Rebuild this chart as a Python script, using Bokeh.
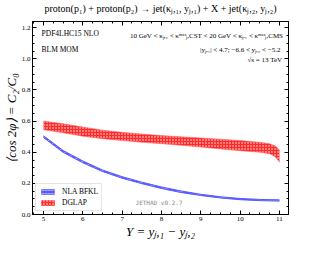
import math
from bokeh.plotting import figure
from bokeh.models import (Range1d, SingleIntervalTicker, LinearAxis, Label, Legend, LegendItem,
                          CustomJSTickFormatter, CustomLabelingPolicy)
from bokeh.embed import file_html
from bokeh.resources import INLINE

# ---- data ----
Y_bfkl = [5.0, 5.5, 6.0, 6.5, 7.0, 7.5, 8.0, 8.5, 9.0, 9.5, 10.0, 10.5, 11.0]
bfkl_mid = [0.500, 0.405, 0.338, 0.281, 0.238, 0.203, 0.172, 0.146, 0.126, 0.110, 0.099, 0.093, 0.090]
bfkl_err = [0.006, 0.006, 0.006, 0.005, 0.005, 0.005, 0.005, 0.005, 0.004, 0.004, 0.004, 0.004, 0.004]

Y_dglap = [5.0, 5.5, 6.0, 6.5, 7.0, 7.5, 8.0, 8.5, 9.0, 9.5, 10.0, 10.5, 10.75, 10.9, 11.0]
dglap_hi = [0.600, 0.583, 0.562, 0.542, 0.528, 0.517, 0.507, 0.499, 0.492, 0.484, 0.475, 0.464, 0.455, 0.440, 0.415]
dglap_lo = [0.545, 0.525, 0.503, 0.487, 0.475, 0.464, 0.455, 0.445, 0.433, 0.421, 0.410, 0.400, 0.390, 0.370, 0.335]

series_names = ["NLA BFKL", "DGLAP"]
x_ticks_interval = 1
y_ticks_interval = 0.2
x_title = "Y = y\u2c7c,\u2081 \u2212 y\u2c7c,\u2082"
y_title = "\u27e8cos 2\u03c6\u27e9 = C\u2082/C\u2080"

SERIF = "Liberation Serif"
X0, X1, Y0, Y1 = 4.72, 11.23, 0.0, 1.24

bfkl_lo = [m - e for m, e in zip(bfkl_mid, bfkl_err)]
bfkl_hi = [m + e for m, e in zip(bfkl_mid, bfkl_err)]

p = figure(width=300, height=241, output_backend="svg", toolbar_location=None,
           x_range=Range1d(X0, X1), y_range=Range1d(Y0, Y1),
           min_border_left=4, min_border_right=1, min_border_top=2, min_border_bottom=2)
p.grid.visible = False
p.outline_line_color = "black"
p.background_fill_color = "white"
p.border_fill_color = "white"

p.title.text = "proton(p\u2081) + proton(p\u2082) \u2192 jet(\u03ba\u2c7c,\u2081, y\u2c7c,\u2081) + X + jet(\u03ba\u2c7c,\u2082, y\u2c7c,\u2082)"
p.title.text_font = SERIF
p.title.text_color = "black"
p.title.text_font_style = "normal"
p.title.text_font_size = "10px"
p.title.align = "center"
p.title.offset = 0
p.title.standoff = 1

no_labels = CustomLabelingPolicy(code="return new Set()")

def style_axis(ax, labels=True):
    ax.major_tick_in = 4
    ax.major_tick_out = 0
    ax.minor_tick_in = 2
    ax.minor_tick_out = 0
    ax.axis_line_color = "black"
    ax.major_tick_line_color = "black"
    ax.minor_tick_line_color = "black"
    ax.major_label_text_font = SERIF
    ax.major_label_text_color = "black"
    ax.major_label_text_font_size = "7px"
    ax.major_label_standoff = 2 if labels else 0
    ax.axis_label_text_font = SERIF
    ax.axis_label_text_color = "black"
    ax.axis_label_text_font_style = "italic"
    if not labels:
        ax.major_label_policy = no_labels

p.xaxis.ticker = SingleIntervalTicker(interval=x_ticks_interval, num_minor_ticks=4)
p.yaxis.ticker = SingleIntervalTicker(interval=y_ticks_interval, num_minor_ticks=4)
style_axis(p.xaxis[0])
style_axis(p.yaxis[0])
p.yaxis.formatter = CustomJSTickFormatter(code="return tick.toFixed(1)")

p.xaxis.axis_label = x_title
p.xaxis.axis_label_text_font_size = "13px"
p.xaxis.axis_label_standoff = 0
p.yaxis.axis_label = y_title
p.yaxis.axis_label_text_font_size = "13px"
p.yaxis.axis_label_standoff = 0

top_ax = LinearAxis(ticker=SingleIntervalTicker(interval=x_ticks_interval, num_minor_ticks=4))
right_ax = LinearAxis(ticker=SingleIntervalTicker(interval=y_ticks_interval, num_minor_ticks=4))
style_axis(top_ax, labels=False)
style_axis(right_ax, labels=False)
p.add_layout(top_ax, "above")
p.add_layout(right_ax, "right")

# bands
r_dglap = p.varea(x=Y_dglap, y1=dglap_lo, y2=dglap_hi, fill_color="#ff2a2a",
                  hatch_pattern="dot", hatch_color="white", hatch_scale=3, hatch_weight=1.2)
p.line(Y_dglap, dglap_hi, line_color="#ff6666", line_width=0.8, line_alpha=0.7)
p.line(Y_dglap, dglap_lo, line_color="#ff6666", line_width=0.8, line_alpha=0.7)

r_bfkl = p.varea(x=Y_bfkl, y1=bfkl_lo, y2=bfkl_hi, fill_color="#5a5aff",
                 hatch_pattern="horizontal_dash", hatch_color="white", hatch_scale=3,
                 hatch_weight=0.8, hatch_alpha=0.6)
p.line(Y_bfkl, bfkl_hi, line_color="#5a5aff", line_width=1)
p.line(Y_bfkl, bfkl_lo, line_color="#5a5aff", line_width=1)

legend = Legend(items=[LegendItem(label=series_names[0], renderers=[r_bfkl]),
                       LegendItem(label=series_names[1], renderers=[r_dglap])],
                location="bottom_left")
legend.label_text_font = SERIF
legend.label_text_font_size = "7.5px"
legend.label_text_color = "black"
legend.glyph_width = 17
legend.glyph_height = 7
legend.label_height = 8
legend.spacing = 2
legend.padding = 3
legend.margin = 3
legend.label_standoff = 6
legend.border_line_color = "#cccccc"
legend.border_line_width = 1
p.add_layout(legend)

def lab(x, y, text, size="6.5px", align="left", font=SERIF, color="black", style="normal"):
    p.add_layout(Label(x=x, y=y, text=text, text_font=font, text_font_size=size,
                       text_align=align, text_baseline="middle", text_color=color,
                       text_font_style=style))

lab(4.95, 1.16, "PDF4LHC15 NLO", size="7.5px")
lab(4.95, 1.057, "BLM MOM", size="7.5px")
lab(11.1, 1.146, "10 GeV < \u03ba\u2c7c,\u2082 < \u03ba\u1d50\u1d43\u02e3\u2c7c,CST < 20 GeV < \u03ba\u2c7c,\u2081 < \u03ba\u1d50\u1d43\u02e3\u2c7c,CMS", size="7px", align="right")
lab(11.07, 1.059, "|y\u2c7c,\u2081| < 4.7;  \u22126.6 < y\u2c7c,\u2082 < \u22125.2", size="7px", align="right")
lab(11.07, 0.994, "\u221as = 13 TeV", size="7px", align="right")
lab(7.34, 0.075, "JETHAD v0.2.7", size="6px", font="DejaVu Sans Mono", color="#888888")

open("out.html", "w").write(file_html(p, INLINE))
